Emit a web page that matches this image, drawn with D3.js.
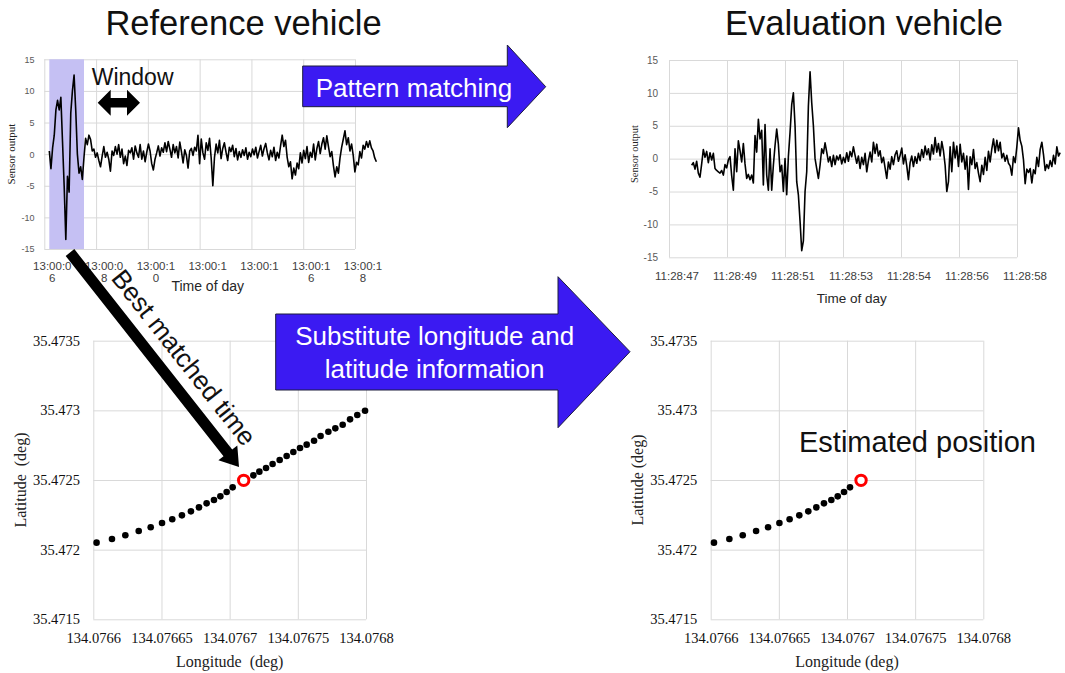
<!DOCTYPE html>
<html>
<head>
<meta charset="utf-8">
<script src="https://cdn.jsdelivr.net/npm/d3@7"></script>
<style>
  body { margin: 0; background: #fff; }
  svg { display: block; }
</style>
</head>
<body>
<svg id="fig" width="1065" height="673"></svg>
<script>
// ---- reference vehicle sensor trace (seconds after 13:00:00) ----
const refTickSec = [6, 8, 10, 12, 14, 16, 18];
const refTickLabels = [["13:00:0", "6"], ["13:00:0", "8"], ["13:00:1", "0"], ["13:00:1", ""],
                       ["13:00:1", ""], ["13:00:1", "6"], ["13:00:1", "8"]];
const refStartSec = 6.193;
const refStepSec = 0.0638;
const windowSec = [6.193, 7.533];
const refOutput = [
  0.5, -2.3, 1, 3, 7, 8.5, 7, 9, 2, -5, -13.5, -3.5, -6, 6.5, 10, 12.5, 7, 0, -3, -2,
  -4, -0.5, 2.5, 1.5, 3, 2.3, 0.5, 0.8, -0.5, 0.2, -1, -2, -0.3, 1.2, -0.5, 0.3, -0.8, -2.7, 0.5, -0.2,
  1.2, 0, 1.5, -0.5, 0.8, -1.5, -0.3, -1.8, 0.6, 0.2, 1, -0.8, 1.3, 0.2, -0.5, 1.5, -0.8, 0.5, -1.2, 0.3,
  1.6, 0.5, -1.5, -2.5, -0.8, 0.2, 1.3, -0.3, 1, 0.3, 1.8, 0.4, 2, 0.8, -0.5, 1.5, 0.2, 1.2, -0.6, 1.9,
  0.4, -1.4, 0.7, -0.2, -2.2, 0.5, 0.9, -0.2, 1.1, 0.5, 3, -1.5, 2.4, 0.2, -0.8, 1.8, 0.6, 2.5, -0.6, -5,
  -0.5, 1.6, 0.2, 2.2, -0.7, 0.9, 1.8, 0.3, -1, 1.1, 0.4, 1.4, -0.4, 0.9, -0.9, 0.4, -0.5, 0.7, -0.2, 1,
  -0.8, 0.3, -0.4, 0.8, -0.1, 1.1, -0.6, 0.4, 1.4, -0.3, 0.9, 1.7, 0.2, -0.9, 0.6, -0.4, 1.1, -1, 0.3, -0.6,
  1.3, 3, 1.2, 2.2, -0.5, -2, -1.2, -3.9, -2.2, -3.3, -1.4, -2.3, 0.2, -1.4, 0.6, -0.7, 1.2, -1.3, 0.3, -0.5,
  1.6, -0.9, 0.9, 2, 0.1, 1.6, 2.6, 0.8, 2.9, 1.2, -0.4, 0.4, -1.8, -3.6, -2, -3, -0.6, 1.1, 2.4, 3.7,
  1.5, 2.6, 0.5, 1.6, -0.2, -2.8, -1.3, -1.7, 0.4, -0.6, 1.4, 0.8, 2, 1.1, 2.1, 1, 0.5, -0.6, -1.2
];

// ---- evaluation vehicle sensor trace (seconds after 11:28:00) ----
const evalTickSec = [47, 48.84, 50.68, 52.52, 54.36, 56.2, 58.04];
const evalTickLabels = ["11:28:47", "11:28:49", "11:28:51", "11:28:53", "11:28:54", "11:28:56", "11:28:58"];
const evalStartSec = 47.719;
const evalStepSec = 0.0529;
const evalOutput = [
  -1, -0.6, -1.6, -0.4, -2.2, -2.8, -0.8, 1.4, 0.2, 1.1, -0.6, 0.9, -0.2, 0.8, -1.5, -1.8, -2, -2.2, -1.8, -2.5,
  -0.9, -1.4, -0.2, 0.3, -2.6, -4.8, 1.5, -2, 2.7, 1.2, -0.5, 2.3, -0.8, -3, -2.4, -3.2, -2.5, -3.7, 3.5, 1,
  6, 3, 4.3, -4, 5.2, -2.5, -4.8, 1.5, -4.8, -1, 2, 4.5, 2.2, -2, -1, -5, 0, -5.5, 0.3, 4,
  8.2, 10, 5, -3.5, -5.5, -9.5, -14, -12.5, -5, -2, 8, 13.2, 8.5, 5, 0, -1.5, -3, -1, 1.5, 0.8,
  2.4, 1, -0.5, 0.3, -1.2, 0.5, -0.9, 0.4, -0.2, 0.6, -0.8, 0.2, -0.6, 0.9, -0.4, 1.1, 0.3, 1.8, 0.5, -0.7,
  0.4, -1.5, 0.2, -0.9, 0.8, -2, -0.3, 1, -0.5, 2.5, 0.8, 2.2, 0.4, 1.2, -0.6, 0.2, -1.4, -3, -0.5, -1.6,
  0.3, -0.9, 0.6, 1.2, -0.4, 0.5, 1.6, -0.8, 0.6, -1.1, -3.2, -0.6, 0.4, -1.2, 0.3, -0.7, 0.8, -0.3, 1.4, 0.2,
  1.9, 0.6, 1.5, -0.2, 2.1, 0.7, 3.2, 1, 2.3, 0.4, 2.6, 1.2, -1, -5, -3.5, 1.8, -2, 2.5, 0.1, 1.9,
  -1.2, 2.2, -0.5, 0.8, -1.6, 0.4, -4.7, 0.3, -0.9, 1.4, -1.5, -0.6, -2.2, -3.5, -1, -2.4, 0.2, -1.8, 1.1, -0.5,
  1.5, 3, 0.9, 2.8, 1.2, 2.5, 0.1, 0.8, -0.4, 0.5, -0.7, -1.1, -2.5, 0.3, -0.6, 1.8, 4.7, 2.8, 1.9, -0.2,
  -3.8, -1.6, -2.1, -1.5, -3.7, -1.7, -2.3, 0.2, -1.2, 1.4, 2.5, 0.6, -1.8, -0.9, -1.5, -0.3, -1.2, 0.5, -0.8, 1.8,
  0.4, 0.9
];
const sensorTicks = [-15, -10, -5, 0, 5, 10, 15];

// ---- reference vehicle GPS track ----
const lonTicks = [134.0766, 134.07665, 134.0767, 134.07675, 134.0768];
const latTicks = [35.4715, 35.472, 35.4725, 35.473, 35.4735];
const refLon = [
  134.0766024, 134.0766137, 134.0766235, 134.0766333, 134.0766421, 134.0766504, 134.0766579, 134.0766650,
  134.0766716, 134.0766775, 134.0766831, 134.0766885, 134.0766932, 134.0766978, 134.0767022, 134.0767103,
  134.0767174, 134.0767218, 134.0767267, 134.0767315, 134.0767367, 134.0767418, 134.0767467, 134.0767516,
  134.0767565, 134.0767619, 134.0767667, 134.0767724, 134.0767775, 134.0767829, 134.0767883, 134.0767936,
  134.0767993
];
const refLat = [
  35.4720502, 35.4720766, 35.4721029, 35.4721340, 35.4721603, 35.4721914, 35.4722177, 35.4722464,
  35.4722751, 35.4723038, 35.4723325, 35.4723565, 35.4723828, 35.4724139, 35.4724474, 35.4724976,
  35.4725335, 35.4725598, 35.4725861, 35.4726148, 35.4726435, 35.4726722, 35.4727010, 35.4727297,
  35.4727536, 35.4727823, 35.4728158, 35.4728469, 35.4728708, 35.4728971, 35.4729354, 35.4729665,
  35.4729976
];
const matchIndex = 15;

const svg = d3.select('#fig');
const SANS = "'Liberation Sans', Arial, sans-serif";
const SERIF = "'Liberation Serif', 'Times New Roman', serif";
const GRID = '#d9d9d9';
const ARROW_BLUE = '#3b1af2';

function gridX(g, x, ticks, y0, y1) {
  g.append('g').attr('transform', `translate(0,${y0})`)
    .call(d3.axisBottom(x).tickValues(ticks).tickSize(-(y0 - y1)).tickFormat(''))
    .call(a => a.select('.domain').remove())
    .call(a => a.selectAll('line').attr('stroke', GRID));
}

function gridY(g, y, ticks, x0, x1) {
  g.append('g').attr('transform', `translate(${x0},0)`)
    .call(d3.axisLeft(y).tickValues(ticks).tickSize(-(x1 - x0)).tickFormat(''))
    .call(a => a.select('.domain').remove())
    .call(a => a.selectAll('line').attr('stroke', GRID));
}

function sensorChart(c) {
  const x = d3.scaleLinear().domain(d3.extent(c.tickSec)).range([c.left, c.right]);
  const y = d3.scaleLinear().domain([-15, 15]).range([c.bottom, c.top]);
  const g = svg.append('g');

  gridY(g, y, sensorTicks, c.left, c.right);
  gridX(g, x, c.tickSec, c.bottom, c.top);

  if (c.window) {
    g.append('rect')
      .attr('x', x(c.window[0])).attr('width', x(c.window[1]) - x(c.window[0]))
      .attr('y', y(15)).attr('height', y(-15) - y(15))
      .attr('fill', '#c5c0f3');
  }

  g.append('path').datum(c.values)
    .attr('fill', 'none').attr('stroke', '#000').attr('stroke-width', 1.6)
    .attr('stroke-linejoin', 'round')
    .attr('d', d3.line().x((d, i) => x(c.start + i * c.step)).y(d => y(d)));

  g.append('g').attr('transform', `translate(${c.left},0)`)
    .call(d3.axisLeft(y).tickValues(sensorTicks).tickSize(0).tickPadding(c.yPad).tickFormat(d => String(d)))
    .call(a => a.select('.domain').remove())
    .selectAll('text')
    .attr('font-family', SANS).attr('font-size', c.yFont).attr('fill', '#595959');

  const xa = g.append('g').attr('transform', `translate(0,${c.bottom})`)
    .call(d3.axisBottom(x).tickValues(c.tickSec).tickSize(0).tickFormat(''))
    .call(a => a.select('.domain').remove());
  xa.selectAll('.tick text').each(function (d, i) {
    const t = d3.select(this)
      .attr('y', c.xBase).attr('dy', null)
      .attr('font-family', SANS).attr('font-size', 11.5).attr('fill', '#404040');
    [].concat(c.tickLabels[i]).forEach((s, k) => {
      t.append('tspan').attr('x', 7.5).attr('dy', k ? '1.08em' : 0).text(s);
    });
  });

  svg.append('text').attr('x', c.xTitle[0]).attr('y', c.xTitle[1])
    .attr('text-anchor', 'middle').attr('font-family', SANS).attr('font-size', c.xTitle[2])
    .attr('fill', '#262626').text('Time of day');

  svg.append('text').attr('transform', `translate(${c.yTitle[0]},${c.yTitle[1]}) rotate(-90)`)
    .attr('text-anchor', 'middle').attr('font-family', SERIF).attr('font-size', c.yTitle[2])
    .attr('fill', '#222').text('Sensor output');
}

function gpsChart(c) {
  const x = d3.scaleLinear().domain(d3.extent(lonTicks)).range([c.left, c.right]);
  const y = d3.scaleLinear().domain(d3.extent(latTicks)).range([c.bottom, c.top]);
  const g = svg.append('g');

  gridY(g, y, latTicks, c.left, c.right);
  gridX(g, x, lonTicks, c.bottom, c.top);

  g.append('g').attr('transform', `translate(${c.left},0)`)
    .call(d3.axisLeft(y).tickValues(latTicks).tickSize(0).tickPadding(c.left - c.yLabelRight).tickFormat(d => String(d)))
    .call(a => a.select('.domain').remove())
    .selectAll('text')
    .attr('font-family', SERIF).attr('font-size', 14.5).attr('fill', '#111');

  g.append('g').attr('transform', `translate(0,${c.bottom})`)
    .call(d3.axisBottom(x).tickValues(lonTicks).tickSize(0).tickFormat(d => String(d)))
    .call(a => a.select('.domain').remove())
    .selectAll('text')
    .attr('y', 23.7).attr('dy', null)
    .attr('font-family', SERIF).attr('font-size', 14.5).attr('fill', '#111');

  const idx = d3.range(c.count).filter(i => i !== matchIndex);
  g.selectAll('circle.pt').data(idx).join('circle')
    .attr('class', 'pt')
    .attr('cx', i => x(refLon[i])).attr('cy', i => y(refLat[i]))
    .attr('r', 3.3).attr('fill', '#000');

  g.append('circle')
    .attr('cx', x(refLon[matchIndex])).attr('cy', y(refLat[matchIndex]))
    .attr('r', 5.2).attr('fill', '#fff').attr('stroke', '#ff0000').attr('stroke-width', 3);

  svg.append('text').attr('x', c.xTitle[0]).attr('y', 666.7)
    .attr('text-anchor', 'middle').attr('font-family', SERIF).attr('font-size', 16)
    .attr('fill', '#222').text(c.xTitle[1]);

  svg.append('text').attr('transform', `translate(${c.yTitle[0]},480) rotate(-90)`)
    .attr('text-anchor', 'middle').attr('font-family', SERIF).attr('font-size', 16)
    .attr('fill', '#222').text(c.yTitle[1]);
}

sensorChart({
  left: 44.3, right: 355, top: 59.3, bottom: 249,
  tickSec: refTickSec, tickLabels: refTickLabels,
  start: refStartSec, step: refStepSec, values: refOutput, window: windowSec,
  yPad: 9.8, yFont: 9, xBase: 21,
  xTitle: [207.7, 290.5, 14], yTitle: [15, 154, 11]
});

sensorChart({
  left: 669, right: 1017, top: 60, bottom: 257.3,
  tickSec: evalTickSec, tickLabels: evalTickLabels,
  start: evalStartSec, step: evalStepSec, values: evalOutput,
  yPad: 11, yFont: 10, xBase: 22.7,
  xTitle: [851.7, 303, 13.5], yTitle: [638, 154, 10.5]
});

gpsChart({
  left: 93.3, right: 366, top: 340.7, bottom: 619.3, yLabelRight: 80,
  count: refLon.length,
  xTitle: [229.7, 'Longitude\u2002(deg)'], yTitle: [26, 'Latitude\u2002(deg)']
});

gpsChart({
  left: 710.7, right: 983.3, top: 340.7, bottom: 619.3, yLabelRight: 697.3,
  count: matchIndex,
  xTitle: [847, 'Longitude (deg)'], yTitle: [643, 'Latitude (deg)']
});

// ---- annotations ----
function blockArrow(x1, y1, x2, y2, w, hl, hw, both) {
  const len = Math.hypot(x2 - x1, y2 - y1);
  const ux = (x2 - x1) / len, uy = (y2 - y1) / len;
  const nx = -uy, ny = ux;
  const p = (b, s) => [b[0] + nx * s, b[1] + ny * s];
  const tip = [x2, y2], tail = [x1, y1];
  const hb = [x2 - ux * hl, y2 - uy * hl];
  const pts = [];
  if (both) {
    const tb = [x1 + ux * hl, y1 + uy * hl];
    pts.push(tail, p(tb, -hw), p(tb, -w / 2), p(hb, -w / 2), p(hb, -hw), tip,
             p(hb, hw), p(hb, w / 2), p(tb, w / 2), p(tb, hw));
  } else {
    pts.push(p(tail, -w / 2), p(hb, -w / 2), p(hb, -hw), tip, p(hb, hw), p(hb, w / 2), p(tail, w / 2));
  }
  return 'M' + pts.map(q => q[0].toFixed(1) + ',' + q[1].toFixed(1)).join('L') + 'Z';
}

svg.append('path')
  .attr('d', 'M302.7,66L507.3,66L507.3,45L545.7,86.7L507.3,127.7L507.3,106.7L302.7,106.7Z')
  .attr('fill', ARROW_BLUE).attr('stroke', '#1c1c3c').attr('stroke-width', 1);
svg.append('text').attr('x', 414).attr('y', 96.7).attr('text-anchor', 'middle')
  .attr('font-family', SANS).attr('font-size', 26).attr('fill', '#fff').text('Pattern matching');

svg.append('path')
  .attr('d', 'M275.7,314L558,314L558,276.7L630,351.7L558,427.7L558,390L275.7,390Z')
  .attr('fill', ARROW_BLUE).attr('stroke', '#1c1c3c').attr('stroke-width', 1);
svg.append('text').attr('x', 434.7).attr('y', 345).attr('text-anchor', 'middle')
  .attr('font-family', SANS).attr('font-size', 26).attr('fill', '#fff').text('Substitute longitude and');
svg.append('text').attr('x', 434.7).attr('y', 378.3).attr('text-anchor', 'middle')
  .attr('font-family', SANS).attr('font-size', 26).attr('fill', '#fff').text('latitude information');

// window double arrow
svg.append('path').attr('d', blockArrow(97.7, 102.7, 140, 102.7, 9.5, 13, 13, true)).attr('fill', '#000');
svg.append('text').attr('x', 91.7).attr('y', 85)
  .attr('font-family', SANS).attr('font-size', 23).attr('fill', '#111').text('Window');

// best matched time arrow
const bs = [70, 252.5], bt = [239, 467];
svg.append('path').attr('d', blockArrow(bs[0], bs[1], bt[0], bt[1], 11, 18, 12, false)).attr('fill', '#000');
{
  const len = Math.hypot(bt[0] - bs[0], bt[1] - bs[1]);
  const ux = (bt[0] - bs[0]) / len, uy = (bt[1] - bs[1]) / len;
  const off = 15.5;
  const px = bs[0] + ux * 153 + uy * off, py = bs[1] + uy * 153 - ux * off;
  const ang = Math.atan2(uy, ux) * 180 / Math.PI;
  svg.append('text').attr('transform', `translate(${px},${py}) rotate(${ang})`)
    .attr('text-anchor', 'middle').attr('font-family', SANS).attr('font-size', 26)
    .attr('fill', '#111').text('Best matched time');
}

svg.append('text').attr('x', 799).attr('y', 451.7)
  .attr('font-family', SANS).attr('font-size', 29).attr('fill', '#111').text('Estimated position');

svg.append('text').attr('x', 243.5).attr('y', 35).attr('text-anchor', 'middle')
  .attr('font-family', SANS).attr('font-size', 34.5).attr('fill', '#111').text('Reference vehicle');
svg.append('text').attr('x', 864).attr('y', 35).attr('text-anchor', 'middle')
  .attr('font-family', SANS).attr('font-size', 34.5).attr('fill', '#111').text('Evaluation vehicle');
</script>
</body>
</html>
